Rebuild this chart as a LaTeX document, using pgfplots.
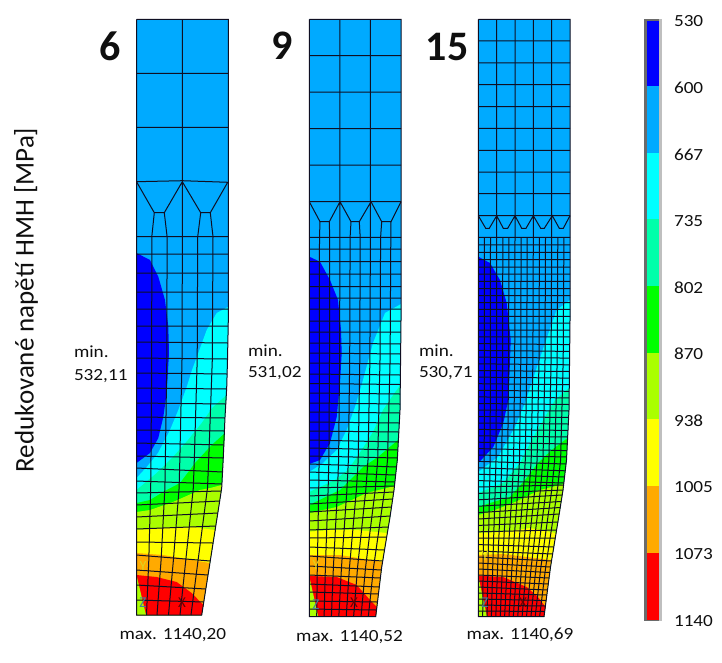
\documentclass[border=0pt]{standalone}
\usepackage{graphicx}
\usepackage{fontspec}
\setmainfont{Carlito}
\usepackage{pgfplots}
\pgfplotsset{compat=1.18}
\definecolor{c1}{RGB}{0,0,255}
\definecolor{c2}{RGB}{0,170,255}
\definecolor{c3}{RGB}{0,255,255}
\definecolor{c4}{RGB}{0,255,170}
\definecolor{c5}{RGB}{0,255,0}
\definecolor{c6}{RGB}{170,255,0}
\definecolor{c7}{RGB}{255,255,0}
\definecolor{c8}{RGB}{255,170,0}
\definecolor{c9}{RGB}{255,0,0}
\definecolor{ink}{RGB}{15,15,15}
\definecolor{mline}{RGB}{15,15,35}
\newcommand\T[1]{\scalebox{1.13}[1]{\fontsize{17}{20}\selectfont #1}}
\begin{document}
\begin{tikzpicture}[every node/.style={inner sep=0pt,outer sep=0pt,text=ink}]
\useasboundingbox (0,0) rectangle (722pt,662pt);
\begin{axis}[at={(0,0)},anchor=south west,scale only axis,width=722pt,height=662pt,
 xmin=0,xmax=722,ymin=0,ymax=662,y dir=reverse,hide axis,clip=false,
 unbounded coords=jump,
 band/.style={draw=none,mark=none},
 m/.style={draw=mline,line width=1pt,mark=none,line join=miter}]
%%%%%%%% MODEL 6 fills
\addplot[band,fill=c2] coordinates {(136.5,19.3)(228.3,19.3)(228.3,320)(227.5,360)(226.7,388)(225,417)(223.3,457)(221.7,488)(216.7,520)(210.4,560)(201.7,615)(136.5,615)} --cycle;
\addplot[band,fill=c3] coordinates {(228.3,306.7)(216.7,313)(206.7,330)(198.3,353)(192,370)(186.7,387)(178.3,410)(170,430)(158,453)(146.7,467)(136.5,478)(136.5,615)(201.7,615)(210.4,560)(216.7,520)(221.7,488)(223.3,457)(225,417)(226.7,388)(227.5,360)(228.3,320)} --cycle;
\addplot[band,fill=c4] coordinates {(226.7,395)(213,407)(201.7,423)(188,440)(173,457)(156.7,473)(136.5,490)(136.5,615)(201.7,615)(210.4,560)(216.7,520)(221.7,488)(223.3,457)(225,417)} --cycle;
\addplot[band,fill=c5] coordinates {(225,433)(211.7,445)(195,463)(180,483)(163,492)(150,500)(136.5,503)(136.5,615)(201.7,615)(210.4,560)(216.7,520)(221.7,488)(223.3,457)} --cycle;
\addplot[band,fill=c6] coordinates {(221.9,485)(210,488)(200,490)(173,502)(150,510)(136.5,512)(136.5,615)(201.7,615)(210.4,560)(216.7,520)(221.7,488)} --cycle;
\addplot[band,fill=c7] coordinates {(215.1,530)(193,527)(163,528)(136.5,530)(136.5,615)(201.7,615)(210.4,560)} --cycle;
\addplot[band,fill=c8] coordinates {(209.9,563)(163,555)(136.5,553)(136.5,615)(201.7,615)} --cycle;
\addplot[band,fill=c9] coordinates {(136.5,575)(156.7,577)(176.7,582)(191.7,593)(203.3,605)(201.7,615)(136.5,615)} --cycle;
\addplot[band,fill=c6] coordinates {(136.5,575)(146,615)(136.5,615)} --cycle;
\addplot[band,fill=c1] coordinates {(136.5,253)(150,260)(158.3,276.7)(165,300)(168.3,326.7)(169,353)(166.7,393)(163.3,417)(158.3,438)(150,453)(136.5,463)} --cycle;
%%%%%%%% MODEL 9 fills
\addplot[band,fill=c2] coordinates {(309.3,19.3)(401,19.3)(401,320)(400,410)(397.3,460)(394,490)(390,517)(381.7,567)(375.7,616.7)(309.3,616.7)} --cycle;
\addplot[band,fill=c3] coordinates {(401,304)(385,313)(373,343)(363,380)(355,407)(346.7,430)(336.7,450)(323,463)(309.3,472)(309.3,616.7)(375.7,616.7)(381.7,567)(390,517)(394,490)(397.3,460)(400,410)(401,320)} --cycle;
\addplot[band,fill=c4] coordinates {(400.3,385)(391.7,397)(383,410)(373,432)(361.7,450)(348,470)(335,480)(309.3,492)(309.3,616.7)(375.7,616.7)(381.7,567)(390,517)(394,490)(397.3,460)(400,410)} --cycle;
\addplot[band,fill=c5] coordinates {(398,440)(378,457)(363,467)(340,490)(309.3,505)(309.3,616.7)(375.7,616.7)(381.7,567)(390,517)(394,490)(397.3,460)} --cycle;
\addplot[band,fill=c6] coordinates {(394.4,486)(366.7,493)(336.7,507)(309.3,513)(309.3,616.7)(375.7,616.7)(381.7,567)(390,517)(394,490)} --cycle;
\addplot[band,fill=c7] coordinates {(387.3,533)(356.7,530)(330,530)(309.3,531.7)(309.3,616.7)(375.7,616.7)(381.7,567)} --cycle;
\addplot[band,fill=c8] coordinates {(382.3,562)(340,555)(309.3,555)(309.3,616.7)(375.7,616.7)} --cycle;
\addplot[band,fill=c9] coordinates {(309.3,576)(336.7,577)(356.7,585)(370,600)(376.9,607)(375.7,616.7)(309.3,616.7)} --cycle;
\addplot[band,fill=c6] coordinates {(309.3,576.7)(318.3,616.7)(309.3,616.7)} --cycle;
\addplot[band,fill=c1] coordinates {(309.3,256.7)(320,261.7)(330,280)(338,300)(341,330)(341.7,353)(340,383)(336.7,417)(330,443)(320,460)(309.3,464)} --cycle;
%%%%%%%% MODEL 15 fills
\addplot[band,fill=c2] coordinates {(478.3,19.3)(570,19.3)(570,320)(569,410)(566.5,460)(563,490)(558.7,517)(550.5,567)(544,616.7)(478.3,616.7)} --cycle;
\addplot[band,fill=c3] coordinates {(570,300)(556.7,310)(545,343)(535,373)(525,403)(515,427)(498,457)(478.3,472)(478.3,616.7)(544,616.7)(550.5,567)(558.7,517)(563,490)(566.5,460)(569,410)(570,320)} --cycle;
\addplot[band,fill=c4] coordinates {(569.2,388)(555,400)(545,417)(531.7,440)(520,463)(503,483)(478.3,493)(478.3,616.7)(544,616.7)(550.5,567)(558.7,517)(563,490)(566.5,460)(569,410)} --cycle;
\addplot[band,fill=c5] coordinates {(567.6,438)(551.7,450)(538,463)(525,480)(510,497)(490,503)(478.3,507)(478.3,616.7)(544,616.7)(550.5,567)(558.7,517)(563,490)(566.5,460)} --cycle;
\addplot[band,fill=c6] coordinates {(563.7,484)(540,490)(515,502)(495,510)(478.3,515)(478.3,616.7)(544,616.7)(550.5,567)(558.7,517)(563,490)} --cycle;
\addplot[band,fill=c7] coordinates {(556,533)(530,528)(503,532)(478.3,533)(478.3,616.7)(544,616.7)(550.5,567)} --cycle;
\addplot[band,fill=c8] coordinates {(551,560)(503,554)(478.3,555)(478.3,616.7)(544,616.7)} --cycle;
\addplot[band,fill=c9] coordinates {(478.3,575.7)(503,577)(526.7,587)(538,597)(545.5,607)(544,616.7)(478.3,616.7)} --cycle;
\addplot[band,fill=c6] coordinates {(478.3,576)(487,616.7)(478.3,616.7)} --cycle;
\addplot[band,fill=c1] coordinates {(478.3,256.7)(490,263)(500,280)(506.7,303)(510.7,340)(509.3,380)(508.3,400)(503.3,423)(493.3,447)(478.3,463)} --cycle;
%%%%%%%% MODEL 6 mesh
\addplot[m] coordinates {(136.5,19.3)(228.3,19.3)(228.3,320)(227.5,360)(226.7,388)(225,417)(223.3,457)(221.7,488)(216.7,520)(210.4,560)(201.7,615)(136.5,615)(136.5,19.3)};
\addplot[m] coordinates {(136.5,73.3)(228.3,73.3)(0,nan)(136.5,127.3)(228.3,127.3)(0,nan)(136.5,181.7)(182.3,180.7)(228.3,182.3)(0,nan)
(136.5,236.7)(228.3,236.7)(0,nan)(136.5,254)(228.3,254)(0,nan)(136.5,273)(228.3,273)(0,nan)(136.5,292)(228.3,292)(0,nan)(136.5,309)(228.3,309)(0,nan)
(136.5,326)(228.2,326)(0,nan)(136.5,342)(227.9,343)(0,nan)(136.5,358)(227.5,359)(0,nan)(136.5,373)(227.1,374)(0,nan)(136.5,388)(226.7,389)(0,nan)
(136.5,403)(225.8,404)(0,nan)(136.5,417)(225,418)(0,nan)(136.5,430)(224.5,431)(0,nan)(136.5,443)(223.8,445)(0,nan)(136.5,456)(223.3,458)(0,nan)
(136.5,468)(222.7,472)(0,nan)(136.5,481)(222,484)(0,nan)(136.5,493)(221.2,491)(0,nan)(136.5,505)(219.7,501)(0,nan)(136.5,517)(217.8,513)(0,nan)
(136.5,529)(215.8,526)(0,nan)(136.5,542)(213.1,543)(0,nan)(136.5,555)(210.2,561)(0,nan)(136.5,570)(208,575)(0,nan)(136.5,585)(205.8,589)(0,nan)(136.5,600)(203.8,602)};
\addplot[m] coordinates {(182.4,19.3)(182.4,236.7)(182,360)(179.9,457)(179.1,488)(173.4,560)(168.5,615)(0,nan)
(151.8,236.7)(151.7,360)(151,457)(150.7,488)(148.8,560)(146.5,615)(0,nan)
(167.1,236.7)(166.8,360)(165.4,457)(164.9,488)(161.1,560)(157,615)(0,nan)
(197.7,236.7)(197.2,360)(194.4,457)(193.3,488)(185.8,560)(180,615)(0,nan)
(213,236.7)(212.3,360)(208.8,457)(207.5,488)(198.1,560)(191,615)(0,nan)
(136.5,181.7)(154.3,212.7)(164.3,212.7)(182.3,181.7)(200.7,212.7)(210.3,212.7)(227.7,182.3)(0,nan)
(154.3,212.7)(151.8,236.7)(0,nan)(164.3,212.7)(167.1,236.7)(0,nan)(200.7,212.7)(197.7,236.7)(0,nan)(210.3,212.7)(213,236.7)};
%%%%%%%% MODEL 9 mesh
\addplot[m] coordinates {(309.3,19.3)(401,19.3)(401,320)(400,410)(397.3,460)(394,490)(390,517)(381.7,567)(375.7,616.7)(309.3,616.7)(309.3,19.3)};
\addplot[m] coordinates {(309.3,55.5)(401,55.5)(0,nan)(309.3,92)(401,92)(0,nan)(309.3,128.5)(401,128.5)(0,nan)(309.3,165)(401,165)(0,nan)(309.3,201.7)(401,201.7)(0,nan)
(309.3,237.3)(401,237.3)(0,nan)(309.3,249)(401,249)(0,nan)(309.3,261.7)(401,261.7)(0,nan)(309.3,274)(401,274)(0,nan)(309.3,286.7)(401,286.7)(0,nan)(309.3,298)(401,298)(0,nan)(309.3,309)(401,309)(0,nan)(309.3,321)(401,321)(0,nan)
(309.3,332)(400.9,332)(0,nan)(309.3,343)(400.7,344)(0,nan)(309.3,353)(400.6,354)(0,nan)(309.3,363)(400.5,364)(0,nan)(309.3,374)(400.4,375)(0,nan)(309.3,383.5)(400.3,384.5)(0,nan)(309.3,393)(400.2,394)(0,nan)(309.3,403)(400.1,404)(0,nan)
(309.3,412)(399.9,413)(0,nan)(309.3,422)(399.4,423)(0,nan)(309.3,431)(398.8,432)(0,nan)(309.3,440)(398.3,442)(0,nan)(309.3,448)(397.8,450)(0,nan)(309.3,456)(397.4,458)(0,nan)(309.3,464)(396.5,467)(0,nan)(309.3,472)(395.7,475)(0,nan)
(309.3,480)(394.9,482)(0,nan)(309.3,488)(394.5,486)(0,nan)(309.3,496)(393.7,492)(0,nan)(309.3,504)(392.7,499)(0,nan)(309.3,512)(391.5,507)(0,nan)(309.3,521)(390.2,516)(0,nan)(309.3,530)(388.3,527)(0,nan)(309.3,538)(386.7,537)(0,nan)
(309.3,547)(384.5,550)(0,nan)(309.3,556)(382.7,561)(0,nan)(309.3,566)(381.3,570)(0,nan)(309.3,575)(380.4,578)(0,nan)(309.3,584)(379.3,587)(0,nan)(309.3,592)(378.5,594)(0,nan)(309.3,601)(377.5,602)(0,nan)(309.3,609)(376.5,610)};
\addplot[m] coordinates {(319.5,237.3)(319.4,360)(319.1,460)(318.7,490)(317.3,567)(316.7,616.7)(0,nan)
(329.7,237.3)(329.5,360)(328.9,460)(328.1,490)(325.4,567)(324.1,616.7)(0,nan)
(339.9,19.3)(339.9,237.3)(339.6,360)(338.6,460)(337.5,490)(333.4,567)(331.4,616.7)(0,nan)
(350.1,237.3)(349.7,360)(348.4,460)(346.9,490)(341.5,567)(338.8,616.7)(0,nan)
(360.2,237.3)(359.8,360)(358.2,460)(356.4,490)(349.5,567)(346.2,616.7)(0,nan)
(370.4,19.3)(370.4,237.3)(369.9,360)(368,460)(365.8,490)(357.6,567)(353.6,616.7)(0,nan)
(380.6,237.3)(380,360)(377.7,460)(375.2,490)(365.6,567)(361,616.7)(0,nan)
(390.8,237.3)(390.1,360)(387.5,460)(384.6,490)(373.6,567)(368.3,616.7)(0,nan)
(309.3,201.7)(320,221.7)(329.3,221.7)(340,201.7)(351,221.7)(359.3,221.7)(371,201.7)(381.7,221.7)(391,221.7)(401,201.7)(0,nan)
(320,221.7)(319.5,237.3)(0,nan)(329.3,221.7)(329.7,237.3)(0,nan)(351,221.7)(350.1,237.3)(0,nan)(359.3,221.7)(360.2,237.3)(0,nan)(381.7,221.7)(380.6,237.3)(0,nan)(391,221.7)(390.8,237.3)};
%%%%%%%% MODEL 15 mesh
\addplot[m] coordinates {(478.3,19.3)(570,19.3)(570,320)(569,410)(566.5,460)(563,490)(558.7,517)(550.5,567)(544,616.7)(478.3,616.7)(478.3,19.3)};
\addplot[m] coordinates {(478.3,40.9)(570,40.9)(0,nan)(478.3,62.8)(570,62.8)(0,nan)(478.3,84.6)(570,84.6)(0,nan)(478.3,106.5)(570,106.5)(0,nan)(478.3,128.4)(570,128.4)(0,nan)(478.3,150.3)(570,150.3)(0,nan)(478.3,172.2)(570,172.2)(0,nan)(478.3,193.5)(570,193.5)(0,nan)(478.3,215.7)(570,215.7)(0,nan)
(478.3,237.3)(570,237.3)(0,nan)(478.3,244.8)(570,244.8)(0,nan)(478.3,252.3)(570,252.3)(0,nan)(478.3,259.7)(570,259.7)(0,nan)(478.3,267)(570,267)(0,nan)(478.3,274.2)(570,274.2)(0,nan)(478.3,281.4)(570,281.4)(0,nan)(478.3,288.5)(570,288.5)(0,nan)(478.3,295.5)(570,295.5)(0,nan)(478.3,302.5)(570,302.5)(0,nan)(478.3,309.4)(570,309.4)(0,nan)(478.3,316.3)(570,316.3)(0,nan)
(478.3,323.2)(570,323.2)(0,nan)(478.3,330)(569.9,330)(0,nan)(478.3,336.8)(569.8,336.8)(0,nan)(478.3,343.6)(569.7,344.6)(0,nan)(478.3,350.4)(569.7,351.4)(0,nan)(478.3,357.1)(569.6,358.1)(0,nan)(478.3,363.8)(569.5,364.8)(0,nan)(478.3,370.5)(569.4,371.5)(0,nan)(478.3,377.1)(569.4,378.1)(0,nan)(478.3,383.7)(569.3,384.7)(0,nan)
(478.3,390.3)(569.2,391.3)(0,nan)(478.3,396.9)(569.1,397.9)(0,nan)(478.3,403.5)(569.1,404.5)(0,nan)(478.3,410)(569,411)(0,nan)(478.3,416.5)(568.7,417.5)(0,nan)(478.3,423)(568.3,424)(0,nan)(478.3,429.4)(568,430.4)(0,nan)(478.3,435.8)(567.7,437)(0,nan)(478.3,442.2)(567.4,444)(0,nan)(478.3,448.6)(567,450.6)(0,nan)
(478.3,455)(566.7,457)(0,nan)(478.3,461.4)(566,464)(0,nan)(478.3,467.8)(565.3,470.8)(0,nan)(478.3,474.2)(564.5,477)(0,nan)(478.3,480.6)(563.8,483)(0,nan)(478.3,487)(563.6,485)(0,nan)(478.3,493.4)(563,490)(0,nan)(478.3,499.8)(562.2,495)(0,nan)(478.3,506.2)(561.2,501.5)(0,nan)(478.3,512.6)(560.2,507.5)(0,nan)
(478.3,519)(559.2,514)(0,nan)(478.3,525.4)(558,522)(0,nan)(478.3,531.8)(556.8,530)(0,nan)(478.3,538.2)(555.3,538)(0,nan)(478.3,544.6)(553.8,547)(0,nan)(478.3,551)(552.6,554)(0,nan)(478.3,557)(551.5,561)(0,nan)(478.3,563)(550.5,567)(0,nan)(478.3,569)(549.8,572.5)(0,nan)(478.3,575)(549.1,578)(0,nan)
(478.3,581)(548.3,584)(0,nan)(478.3,587)(547.5,590)(0,nan)(478.3,593)(546.9,595)(0,nan)(478.3,599)(546.2,600.5)(0,nan)(478.3,605)(545.5,606)(0,nan)(478.3,611)(544.7,611.5)};
\addplot[m] coordinates {(484.4,237.3)(484.4,360)(484.2,460)(483.9,490)(483.1,567)(482.7,616.7)(0,nan)
(490.5,237.3)(490.4,360)(490.1,460)(489.6,490)(487.9,567)(487.1,616.7)(0,nan)
(496.6,19.3)(496.6,237.3)(496.5,360)(496,460)(495.2,490)(492.7,567)(491.4,616.7)(0,nan)
(502.8,237.3)(502.6,360)(501.8,460)(500.9,490)(497.6,567)(495.8,616.7)(0,nan)
(508.9,237.3)(508.6,360)(507.7,460)(506.5,490)(502.4,567)(500.2,616.7)(0,nan)
(515,19.3)(515,237.3)(514.7,360)(513.6,460)(512.2,490)(507.2,567)(504.6,616.7)(0,nan)
(521.1,237.3)(520.8,360)(519.5,460)(517.8,490)(512,567)(509,616.7)(0,nan)
(527.2,237.3)(526.8,360)(525.3,460)(523.5,490)(516.8,567)(513.3,616.7)(0,nan)
(533.3,19.3)(533.3,237.3)(532.9,360)(531.2,460)(529.1,490)(521.6,567)(517.7,616.7)(0,nan)
(539.4,237.3)(539,360)(537.1,460)(534.8,490)(526.4,567)(522.1,616.7)(0,nan)
(545.5,237.3)(545,360)(543,460)(540.4,490)(531.2,567)(526.5,616.7)(0,nan)
(551.7,19.3)(551.7,237.3)(551.1,360)(548.9,460)(546.1,490)(536.1,567)(530.9,616.7)(0,nan)
(557.8,237.3)(557.2,360)(554.7,460)(551.7,490)(540.9,567)(535.2,616.7)(0,nan)
(563.9,237.3)(563.2,360)(560.6,460)(557.4,490)(545.7,567)(539.6,616.7)(0,nan)
(478.3,215.7)(485.7,228.3)(489.3,228.3)(496.7,215.7)(503.3,228.3)(507.7,228.3)(515,215.7)(521.7,228.3)(526,228.3)(533.3,215.7)(540.7,228.3)(544.3,228.3)(552.3,215.7)(559.3,228.3)(563.3,228.3)(570,215.7)};
%%%%%%%% Colour bar
\addplot[band,fill=black!58] coordinates {(644.3,19)(661.7,19)(661.7,621)(644.3,621)} --cycle;
\addplot[band,fill=black!25] coordinates {(659,19)(661.7,19)(661.7,621)(659,621)} --cycle;
\addplot[band,fill=c1] coordinates {(646.7,20.5)(659,20.5)(659,86)(646.7,86)} --cycle;
\addplot[band,fill=c2] coordinates {(646.7,86)(659,86)(659,153)(646.7,153)} --cycle;
\addplot[band,fill=c3] coordinates {(646.7,153)(659,153)(659,219)(646.7,219)} --cycle;
\addplot[band,fill=c4] coordinates {(646.7,219)(659,219)(659,286)(646.7,286)} --cycle;
\addplot[band,fill=c5] coordinates {(646.7,286)(659,286)(659,353)(646.7,353)} --cycle;
\addplot[band,fill=c6] coordinates {(646.7,353)(659,353)(659,419)(646.7,419)} --cycle;
\addplot[band,fill=c7] coordinates {(646.7,419)(659,419)(659,486)(646.7,486)} --cycle;
\addplot[band,fill=c8] coordinates {(646.7,486)(659,486)(659,553)(646.7,553)} --cycle;
\addplot[band,fill=c9] coordinates {(646.7,553)(659,553)(659,619.5)(646.7,619.5)} --cycle;
%%%%%%%% Text
\node[anchor=west] at (axis cs:674,21) {\T{530}};
\node[anchor=west] at (axis cs:674,88) {\T{600}};
\node[anchor=west] at (axis cs:674,155) {\T{667}};
\node[anchor=west] at (axis cs:674,221) {\T{735}};
\node[anchor=west] at (axis cs:674,288) {\T{802}};
\node[anchor=west] at (axis cs:674,354) {\T{870}};
\node[anchor=west] at (axis cs:674,421) {\T{938}};
\node[anchor=west] at (axis cs:674,487) {\T{1005}};
\node[anchor=west] at (axis cs:674,554) {\T{1073}};
\node[anchor=west] at (axis cs:674,621) {\T{1140}};
\node[anchor=center] at (axis cs:110,46) {\fontsize{42}{46}\selectfont\bfseries 6};
\node[anchor=center] at (axis cs:282,46) {\fontsize{42}{46}\selectfont\bfseries 9};
\node[anchor=center] at (axis cs:447,47) {\fontsize{42}{46}\selectfont\bfseries 15};
\node[anchor=west] at (axis cs:74,352) {\T{min.}};
\node[anchor=west] at (axis cs:74,376) {\T{532,11}};
\node[anchor=west] at (axis cs:248,351) {\T{min.}};
\node[anchor=west] at (axis cs:248,373) {\T{531,02}};
\node[anchor=west] at (axis cs:419,351) {\T{min.}};
\node[anchor=west] at (axis cs:419,373) {\T{530,71}};
\node[anchor=center] at (axis cs:172.8,635) {\T{max. 1140,20}};
\node[anchor=center] at (axis cs:349.5,637) {\T{max. 1140,52}};
\node[anchor=center] at (axis cs:520,635) {\T{max. 1140,69}};
\node[anchor=center,rotate=90] at (axis cs:26,300) {\fontsize{27}{30}\selectfont Redukované napětí HMH [MPa]};
%%%%%%%% Triads
\node[text=black!60!red] at (axis cs:182,603) {\fontsize{15}{15}\selectfont X};
\node[text=black!45!cyan] at (axis cs:143,603) {\fontsize{15}{15}\selectfont Z};
\node[text=yellow!85!black] at (axis cs:143,566) {\fontsize{14}{15}\selectfont Y};
\node[text=black!60!red] at (axis cs:354,603) {\fontsize{15}{15}\selectfont X};
\node[text=black!45!cyan] at (axis cs:316,605) {\fontsize{15}{15}\selectfont Z};
\node[text=yellow!85!black] at (axis cs:316,565) {\fontsize{14}{15}\selectfont Y};
\node[text=black!60!red] at (axis cs:523,603) {\fontsize{15}{15}\selectfont X};
\node[text=black!45!cyan] at (axis cs:485,603) {\fontsize{15}{15}\selectfont Z};
\node[text=yellow!85!black] at (axis cs:485,556) {\fontsize{14}{15}\selectfont Y};
\end{axis}
\end{tikzpicture}
\end{document}
